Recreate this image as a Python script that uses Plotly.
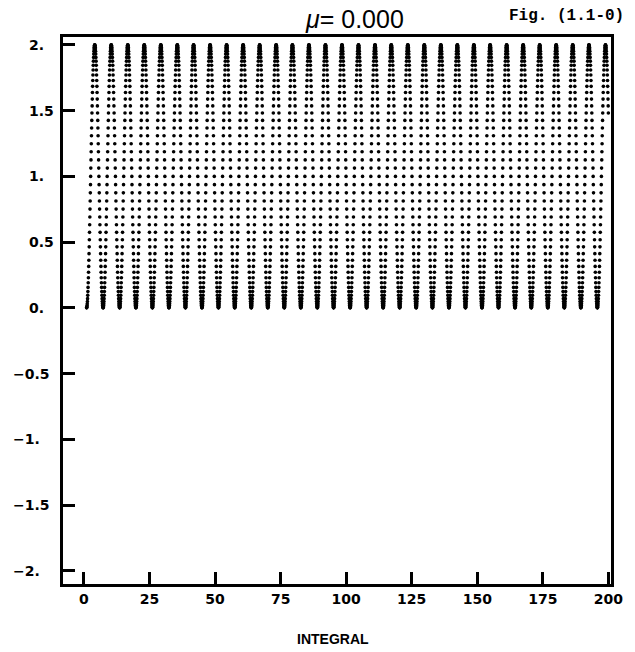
import numpy as np
import plotly.graph_objects as go

# Extrema of the dotted oscillation
trough_x = [1.0, 7.3, 13.6, 19.8, 26.1, 32.4, 38.7, 45.0, 51.3, 57.5, 63.8, 70.1,
            76.4, 82.7, 89.0, 95.2, 101.5, 107.8, 114.1, 120.4, 126.7, 132.9, 139.2,
            145.5, 151.8, 158.1, 164.4, 170.6, 176.9, 183.2, 189.5, 195.8, 202.1]
trough_y = [0.0] * 33
peak_x = [4.1, 10.4, 16.7, 23.0, 29.3, 35.6, 41.8, 48.1, 54.4, 60.7, 67.0, 73.3,
          79.5, 85.8, 92.1, 98.4, 104.7, 111.0, 117.2, 123.5, 129.8, 136.1, 142.4,
          148.7, 154.9, 161.2, 167.5, 173.8, 180.1, 186.4, 192.6, 198.9]
peak_y = [2.0] * 32
x_end = 200.0
pts_per_half = 50

x_ticks = [0, 25, 50, 75, 100, 125, 150, 175, 200]
x_tick_text = ["0", "25", "50", "75", "100", "125", "150", "175", "200"]
y_ticks = [2, 1.5, 1, 0.5, 0, -0.5, -1, -1.5, -2]
y_tick_text = ["2.", "1.5", "1.", "0.5", "0.", "−0.5", "−1.", "−1.5", "−2."]

# Sampled points between successive extrema (trough -> peak -> trough ...)
ext_x, ext_y = [], []
for i in range(len(peak_x)):
    ext_x += [trough_x[i], peak_x[i]]
    ext_y += [trough_y[i], peak_y[i]]
ext_x.append(trough_x[-1]); ext_y.append(trough_y[-1])

xs, ys = [], []
for i in range(len(ext_x) - 1):
    xa, xb, ya, yb = ext_x[i], ext_x[i + 1], ext_y[i], ext_y[i + 1]
    s = np.arange(pts_per_half) / pts_per_half
    xx = xa + (xb - xa) * s
    yy = ya + (yb - ya) * (1 - np.cos(np.pi * s)) / 2
    xs.extend(xx); ys.extend(yy)
xs = np.array(xs); ys = np.array(ys)
keep = xs <= x_end
xs, ys = xs[keep], ys[keep]

fig = go.Figure()
fig.add_trace(go.Scatter(x=xs, y=ys, mode="markers",
                         marker=dict(color="black", size=3.6, line=dict(width=0)),
                         hoverinfo="skip", showlegend=False))

tickfont = dict(family="DejaVu Sans", size=14, color="black", weight="bold")
fig.update_xaxes(range=[-8, 201], tickvals=x_ticks, ticktext=x_tick_text,
                 ticks="inside", ticklen=12, tickwidth=2.5, tickcolor="black",
                 showline=True, linewidth=3, linecolor="black", mirror=True,
                 showgrid=False, zeroline=False, tickfont=tickfont)
fig.update_yaxes(range=[-2.1, 2.06], tickvals=y_ticks, showticklabels=False,
                 ticks="inside", ticklen=12, tickwidth=2.5, tickcolor="black",
                 showline=True, linewidth=3, linecolor="black", mirror=True,
                 showgrid=False, zeroline=False)

ann = []
for v, t in zip(y_ticks, y_tick_text):
    xp = -0.0955 if t.startswith("−") else -0.065
    ann.append(dict(x=xp, xref="paper", y=v, yref="y", text=t, showarrow=False,
                    xanchor="left", yanchor="middle", font=tickfont))
ann.append(dict(x=(358 - 63) / 555, xref="paper", y=1 + (37 - 19) / 547, yref="paper",
                text="<i>μ</i>= 0.000", showarrow=False, xanchor="center", yanchor="middle",
                font=dict(family="Liberation Sans", size=25, color="black")))
ann.append(dict(x=(573 - 63) / 555, xref="paper", y=1 + (37 - 16) / 547, yref="paper",
                text="<b>Fig. (1.1-0)</b>", showarrow=False, xanchor="center", yanchor="middle",
                font=dict(family="Liberation Mono", size=16, color="black")))
ann.append(dict(x=(336 - 63) / 555, xref="paper", y=-(639 - 584) / 547, yref="paper",
                text="INTEGRAL", showarrow=False, xanchor="center", yanchor="middle",
                font=dict(family="Liberation Sans Narrow, Liberation Sans", size=14,
                          color="black", weight="bold")))

fig.update_layout(width=635, height=652, margin=dict(l=63, r=17, t=37, b=68),
                  paper_bgcolor="white", plot_bgcolor="white", annotations=ann)
fig.write_html("out.html")
